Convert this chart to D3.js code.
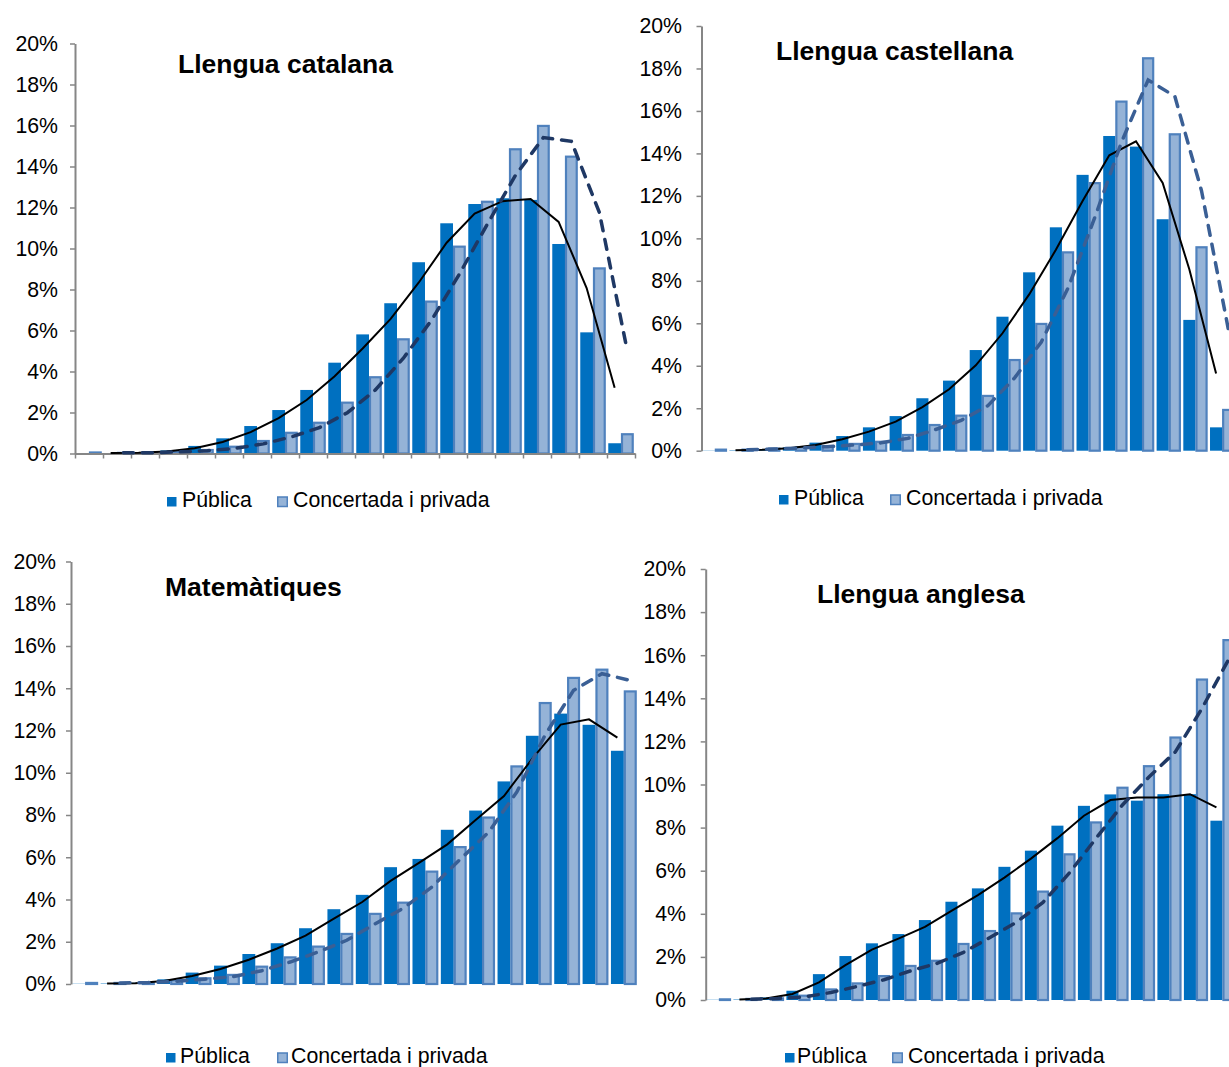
<!DOCTYPE html>
<html><head><meta charset="utf-8">
<script src="https://cdn.jsdelivr.net/npm/d3@7"></script>
<style>html,body{margin:0;padding:0;background:#fff;overflow:hidden}</style>
</head><body>
<svg id="c" width="1229" height="1067"></svg>
<script>
// ---- data ----
const categories = ['1','2','3','4','5','6','7','8','9','10','11','12','13','14','15','16','17','18','19','20'];
const yTickValues = [0, 2, 4, 6, 8, 10, 12, 14, 16, 18, 20];
const yTickLabels = ['0%','2%','4%','6%','8%','10%','12%','14%','16%','18%','20%'];
const seriesNames = ['Pública', 'Concertada i privada'];
const titles = ['Llengua catalana', 'Llengua castellana', 'Matemàtiques', 'Llengua anglesa'];

// Llengua catalana (%)
const catPublica     = [0.01,0.02,0.05,0.15,0.37,0.74,1.34,2.12,3.10,4.43,5.81,7.33,9.33,11.23,12.17,12.45,12.37,10.22,5.91,0.50];
const catConcertada  = [0.05,0.03,0.05,0.10,0.17,0.33,0.61,1.01,1.50,2.48,3.72,5.57,7.41,10.09,12.28,14.84,15.98,14.48,9.03,0.94];
const catPublicaMA   = [null,0.02,0.04,0.10,0.26,0.56,1.04,1.73,2.61,3.77,5.12,6.57,8.33,10.28,11.70,12.31,12.41,11.30,8.07,3.21];
const catConcertMA   = [null,0.04,0.04,0.08,0.14,0.25,0.47,0.81,1.26,1.99,3.10,4.65,6.49,8.75,11.19,13.56,15.41,15.23,11.76,4.99];

// Llengua castellana (%)
const casPublica     = [0.01,0.02,0.08,0.16,0.38,0.69,1.10,1.63,2.47,3.30,4.74,6.31,8.40,10.52,12.99,14.82,14.32,10.90,6.16,1.10];
const casConcertada  = [0.05,0.05,0.10,0.16,0.22,0.32,0.42,0.74,1.21,1.65,2.58,4.27,5.97,9.34,12.60,16.44,18.48,14.90,9.58,1.92];
const casPublicaMA   = [null,0.02,0.05,0.12,0.27,0.54,0.90,1.37,2.05,2.89,4.02,5.53,7.36,9.46,11.76,13.91,14.57,12.61,8.53,3.63];
const casConcertMA   = [null,0.05,0.08,0.13,0.19,0.27,0.37,0.58,0.98,1.43,2.12,3.43,5.12,7.66,10.97,14.52,17.46,16.69,12.24,5.75];

// Matemàtiques (%)
const matPublica     = [0.01,0.02,0.06,0.22,0.54,0.87,1.42,1.93,2.64,3.54,4.22,5.53,5.92,7.30,8.21,9.59,11.75,12.80,12.27,11.04];
const matConcertada  = [0.05,0.05,0.08,0.18,0.27,0.43,0.82,1.26,1.77,2.37,3.32,3.85,5.32,6.48,7.88,10.30,13.30,14.49,14.88,13.85];
const matPublicaMA   = [null,0.02,0.04,0.14,0.38,0.71,1.15,1.68,2.29,3.09,3.88,4.88,5.73,6.61,7.76,8.90,10.67,12.28,12.53,11.66];
const matConcertMA   = [null,0.05,0.07,0.13,0.23,0.35,0.63,1.04,1.52,2.07,2.85,3.59,4.59,5.90,7.18,9.09,11.80,13.90,14.69,14.37];

// Llengua anglesa (%)
const angPublica     = [0.01,0.02,0.12,0.43,1.20,2.04,2.63,3.06,3.71,4.56,5.18,6.18,6.93,8.09,9.01,9.54,9.25,9.55,9.55,8.32];
const angConcertada  = [0.03,0.05,0.08,0.20,0.49,0.77,1.11,1.58,1.82,2.60,3.20,4.02,5.03,6.76,8.24,9.85,10.85,12.18,14.87,16.70];
const angPublicaMA   = [null,0.02,0.07,0.28,0.82,1.62,2.34,2.85,3.39,4.14,4.87,5.68,6.56,7.51,8.55,9.28,9.40,9.40,9.55,8.94];
const angConcertMA   = [null,0.04,0.07,0.14,0.35,0.63,0.94,1.35,1.70,2.21,2.90,3.61,4.53,5.90,7.50,9.05,10.35,11.52,13.53,15.79];

// ---- layout / style ----
const FONT = "'Liberation Sans', Arial, sans-serif";
const C_PUB = '#0070C0', C_CONC = '#95B3D7', C_CONC_STROKE = '#4F81BD', C_AXIS = '#868686';

const panels = [
  { title: titles[0], pub: catPublica, conc: catConcertada, pubMA: catPublicaMA, concMA: catConcertMA,
    x0: 75, x1: 635, y0: 453.5, y1: 43.5, labelRight: 58, xAxis: true, dash: '#1F3864',
    titleX: 178, titleY: 72.5, legY: 506.5, legPubSq: 167, legPubTx: 182, legConcSq: 277, legConcTx: 293 },
  { title: titles[1], pub: casPublica, conc: casConcertada, pubMA: casPublicaMA, concMA: casConcertMA,
    x0: 701.5, x1: 1235.5, y0: 450.7, y1: 26, labelRight: 682, xAxis: false, dash: '#3A5F95',
    titleX: 776, titleY: 59.5, legY: 504.5, legPubSq: 779, legPubTx: 794, legConcSq: 890, legConcTx: 906 },
  { title: titles[2], pub: matPublica, conc: matConcertada, pubMA: matPublicaMA, concMA: matConcertMA,
    x0: 71, x1: 638, y0: 984, y1: 561.5, labelRight: 56, xAxis: false, dash: '#3A5F95',
    titleX: 165, titleY: 595.5, legY: 1062.5, legPubSq: 166, legPubTx: 180, legConcSq: 277, legConcTx: 291 },
  { title: titles[3], pub: angPublica, conc: angConcertada, pubMA: angPublicaMA, concMA: angConcertMA,
    x0: 705.7, x1: 1235.7, y0: 1000, y1: 569, labelRight: 686, xAxis: false, dash: '#1F3864',
    titleX: 817, titleY: 602.5, legY: 1062.5, legPubSq: 785, legPubTx: 797, legConcSq: 892, legConcTx: 908 }
];

const svg = d3.select('#c');

panels.forEach(p => {
  const g = svg.append('g');
  const x = d3.scaleBand().domain(categories).range([p.x0, p.x1]).padding(0);
  const inner = d3.scaleBand().domain(['pub', 'conc']).range([0, x.bandwidth()]).paddingInner(0).paddingOuter(0.1);
  const y = d3.scaleLinear().domain([0, 20]).range([p.y0, p.y1]);

  // bars
  g.selectAll('rect.pub').data(p.pub).join('rect')
    .attr('x', (d, i) => x(categories[i]) + inner('pub'))
    .attr('width', inner.bandwidth())
    .attr('y', d => y(d)).attr('height', d => y(0) - y(d))
    .attr('fill', C_PUB);
  g.selectAll('rect.conc').data(p.conc).join('rect')
    .attr('x', (d, i) => x(categories[i]) + inner('conc') + 1)
    .attr('width', inner.bandwidth() - 2)
    .attr('y', d => y(d)).attr('height', d => y(0) - y(d))
    .attr('fill', C_CONC).attr('stroke', C_CONC_STROKE).attr('stroke-width', 2.2);

  // y axis
  const ya = d3.axisLeft(y).tickValues(yTickValues).tickFormat((d, i) => yTickLabels[i])
    .tickSize(5).tickSizeOuter(0).tickPadding(p.x0 - 5 - p.labelRight);
  const yg = g.append('g').attr('transform', `translate(${p.x0},0)`).call(ya);
  yg.select('.domain').attr('stroke', C_AXIS).attr('stroke-width', 2);
  yg.selectAll('.tick line').attr('stroke', C_AXIS).attr('stroke-width', 1.5);
  yg.selectAll('.tick text').attr('fill', '#000').style('font-family', FONT).style('font-size', '21.3px');

  if (p.xAxis) {
    const xl = d3.scaleLinear().domain([0, categories.length]).range([p.x0, p.x1]);
    const xa = d3.axisBottom(xl).tickValues(d3.range(categories.length + 1)).tickFormat('').tickSize(5).tickSizeOuter(0);
    const xg = g.append('g').attr('transform', `translate(0,${p.y0})`).call(xa);
    xg.select('.domain').attr('stroke', C_AXIS).attr('stroke-width', 2);
    xg.selectAll('.tick line').attr('stroke', C_AXIS).attr('stroke-width', 1.5);
  }

  // trend lines
  const lineFor = key => d3.line()
    .defined(d => d != null)
    .x((d, i) => x(categories[i]) + inner(key) + inner.bandwidth() / 2)
    .y(d => y(d));
  g.append('path').datum(p.pubMA).attr('d', lineFor('pub'))
    .attr('fill', 'none').attr('stroke', '#000').attr('stroke-width', 2);
  g.append('path').datum(p.concMA).attr('d', lineFor('conc'))
    .attr('fill', 'none').attr('stroke', p.dash).attr('stroke-width', 3.5)
    .attr('stroke-dasharray', '10 9').attr('stroke-linecap', 'round');

  // title
  g.append('text').attr('x', p.titleX).attr('y', p.titleY).text(p.title)
    .style('font-family', FONT).style('font-size', '26.5px').style('font-weight', 'bold').attr('fill', '#000');

  // legend
  g.append('rect').attr('x', p.legPubSq).attr('y', p.legY - 9.5).attr('width', 9.5).attr('height', 9.5).attr('fill', C_PUB);
  g.append('text').attr('x', p.legPubTx).attr('y', p.legY).text(seriesNames[0])
    .style('font-family', FONT).style('font-size', '21.3px').attr('fill', '#000');
  g.append('rect').attr('x', p.legConcSq + 0.75).attr('y', p.legY - 9.5).attr('width', 9.5).attr('height', 9.5)
    .attr('fill', C_CONC).attr('stroke', C_CONC_STROKE).attr('stroke-width', 1.5);
  g.append('text').attr('x', p.legConcTx).attr('y', p.legY).text(seriesNames[1])
    .style('font-family', FONT).style('font-size', '21.3px').attr('fill', '#000');
});
</script></body></html>
